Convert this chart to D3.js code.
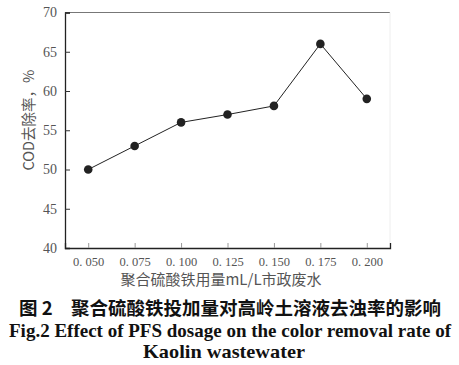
<!DOCTYPE html>
<html><head><meta charset="utf-8">
<script src="https://cdn.jsdelivr.net/npm/d3@7"></script>
<style>body{margin:0;background:#fff;}svg{display:block;}</style>
</head><body>
<script>
const dosages = [0.050, 0.075, 0.100, 0.125, 0.150, 0.175, 0.200];
const removal = [50, 53, 56, 57, 58.1, 66, 59];
const yTicks = [40, 45, 50, 55, 60, 65, 70];
const xLabel = "聚合硫酸铁用量mL/L市政废水";
const yLabel = "COD去除率，%";
const captionCn = "图 2　聚合硫酸铁投加量对高岭土溶液去浊率的影响";
const captionEn1 = "Fig.2 Effect of PFS dosage on the color removal rate of";
const captionEn2 = "Kaolin wastewater";

const W = 459, H = 365;
const m = {l: 65, r: 390, t: 12.5, b: 248};
const svg = d3.select("body").append("svg").attr("width", W).attr("height", H);

const x = d3.scaleLinear().domain([0.0375, 0.2125]).range([m.l, m.r]);
const y = d3.scaleLinear().domain([40, 70]).range([m.b, m.t]);

// frame
svg.append("line").attr("x1", m.l).attr("x2", m.r).attr("y1", m.t).attr("y2", m.t).attr("stroke", "#777").attr("stroke-width", 1);
svg.append("line").attr("x1", m.r).attr("x2", m.r).attr("y1", m.t).attr("y2", m.b).attr("stroke", "#eee").attr("stroke-width", 1);

const yAxis = svg.append("g").attr("transform", `translate(${m.l},0)`)
  .call(d3.axisLeft(y).tickValues(yTicks).tickSize(-5).tickPadding(8).tickFormat(d3.format("d")));
yAxis.select(".domain").attr("stroke", "#222").attr("stroke-width", 1.3);
yAxis.selectAll(".tick line").attr("stroke", "#333");
yAxis.selectAll("text").attr("font-family", "'Liberation Serif', serif").attr("font-size", 14).attr("fill", "#555");

const fmt = d => d3.format(".3f")(d).replace(".", ". ");
const xAxis = svg.append("g").attr("transform", `translate(0,${m.b})`)
  .call(d3.axisBottom(x).tickValues(dosages).tickSize(-5).tickPadding(9).tickFormat(fmt));
xAxis.select(".domain").attr("stroke", "#222").attr("stroke-width", 1.3);
xAxis.selectAll(".tick line").attr("stroke", "#999");
xAxis.selectAll("text").attr("font-family", "'Liberation Serif', serif").attr("font-size", 12.5).attr("fill", "#555");

const data = dosages.map((d, i) => ({x: d, y: removal[i]}));
svg.append("path").datum(data)
  .attr("d", d3.line().x(d => x(d.x)).y(d => y(d.y)))
  .attr("fill", "none").attr("stroke", "#222").attr("stroke-width", 1);
svg.selectAll("circle.pt").data(data).enter().append("circle")
  .attr("cx", d => x(d.x)).attr("cy", d => y(d.y)).attr("r", 4.3).attr("fill", "#222");

svg.append("text").attr("x", 221).attr("y", 285).attr("text-anchor", "middle")
  .attr("font-family", "'Noto Sans CJK SC', sans-serif").attr("font-size", 15).attr("fill", "#555").text(xLabel);
svg.append("text").attr("transform", "translate(34,120) rotate(-90)").attr("text-anchor", "middle")
  .attr("font-family", "'Noto Sans CJK SC', serif").attr("font-size", 14.5).attr("fill", "#555").text(yLabel);

svg.append("text").attr("x", 230).attr("y", 315).attr("text-anchor", "middle")
  .attr("font-family", "'Noto Sans CJK SC', sans-serif").attr("font-weight", "bold").attr("font-size", 18.5).attr("fill", "#111").text(captionCn);
svg.append("text").attr("x", 230).attr("y", 337).attr("text-anchor", "middle")
  .attr("textLength", 442).attr("lengthAdjust", "spacingAndGlyphs")
  .attr("font-family", "'Liberation Serif', serif").attr("font-weight", "bold").attr("font-size", 19).attr("fill", "#111").text(captionEn1);
svg.append("text").attr("x", 224).attr("y", 358).attr("text-anchor", "middle")
  .attr("textLength", 162).attr("lengthAdjust", "spacingAndGlyphs")
  .attr("font-family", "'Liberation Serif', serif").attr("font-weight", "bold").attr("font-size", 19).attr("fill", "#111").text(captionEn2);
</script>
</body></html>
